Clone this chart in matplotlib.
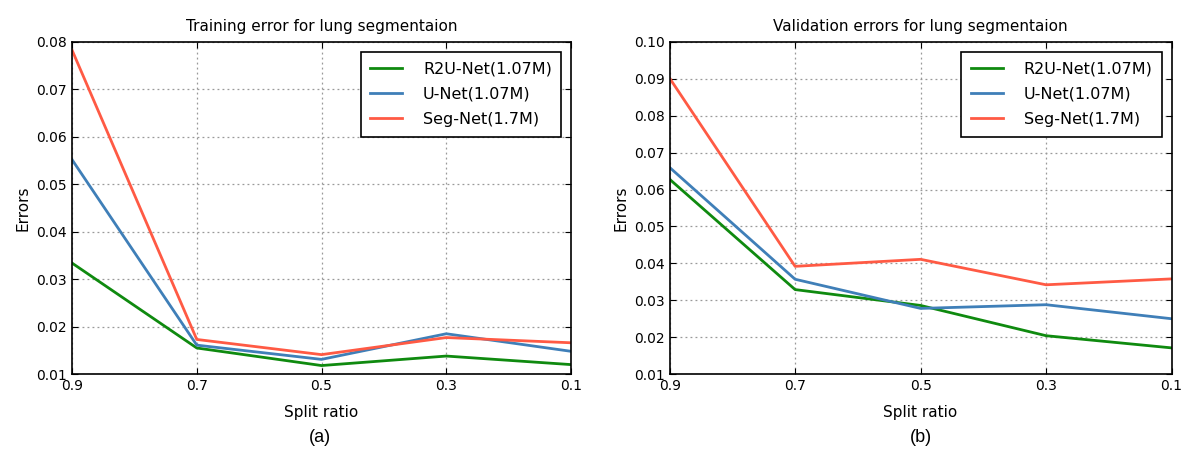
import matplotlib
matplotlib.use("Agg")
import matplotlib.pyplot as plt

# split ratios on the x axis (shown from 0.9 down to 0.1)
split_ratio = [0.9, 0.7, 0.5, 0.3, 0.1]
x_labels = ["0.9", "0.7", "0.5", "0.3", "0.1"]
series_names = ["R2U-Net(1.07M)", "U-Net(1.07M)", "Seg-Net(1.7M)"]

# training errors
train_r2unet = [0.0334, 0.0155, 0.0118, 0.0138, 0.0120]
train_unet = [0.0552, 0.0161, 0.0131, 0.0185, 0.0148]
train_segnet = [0.0783, 0.0173, 0.0141, 0.0177, 0.0166]

# validation errors
val_r2unet = [0.0628, 0.0329, 0.0286, 0.0204, 0.0171]
val_unet = [0.0660, 0.0357, 0.0278, 0.0288, 0.0250]
val_segnet = [0.0902, 0.0392, 0.0411, 0.0342, 0.0358]

colors = ["#0f8a0f", "#3f7fb8", "#ff5a44"]

plt.rcParams["font.family"] = "DejaVu Sans"

fig = plt.figure(figsize=(11.81, 4.59), dpi=100)
ax1 = fig.add_axes([0.061, 0.185, 0.4225, 0.7235])
ax2 = fig.add_axes([0.567, 0.185, 0.425, 0.7235])


def draw(ax, data, title, ylim, yticks):
    for vals, name, c in zip(data, series_names, colors):
        ax.plot(split_ratio, vals, color=c, lw=2, label=name)
    ax.set_xlim(0.9, 0.1)
    ax.set_ylim(*ylim)
    ax.set_xticks(split_ratio)
    ax.set_xticklabels(x_labels)
    ax.set_yticks(yticks)
    ax.set_yticklabels(["%.2f" % t for t in yticks])
    ax.grid(True, linestyle=(0, (1.5, 2.5)), color="#999999", lw=0.9)
    ax.tick_params(direction="in", top=True, right=True, labelsize=10, length=4)
    for s in ax.spines.values():
        s.set_linewidth(1.2)
    ax.set_title(title, fontsize=11, pad=8)
    ax.set_xlabel("Split ratio", fontsize=11, labelpad=9)
    ax.set_ylabel("Errors", fontsize=11, labelpad=4)
    leg = ax.legend(loc="upper right", fontsize=11.5, fancybox=False, framealpha=1,
                    handlelength=2.0, handletextpad=1.3, borderpad=0.6,
                    labelspacing=0.65, borderaxespad=0.6)
    leg.get_frame().set_edgecolor("black")
    leg.get_frame().set_linewidth(1.2)


draw(ax1, [train_r2unet, train_unet, train_segnet],
     "Training error for lung segmentaion", (0.01, 0.08),
     [0.01, 0.02, 0.03, 0.04, 0.05, 0.06, 0.07, 0.08])
draw(ax2, [val_r2unet, val_unet, val_segnet],
     "Validation errors for lung segmentaion", (0.01, 0.10),
     [0.01, 0.02, 0.03, 0.04, 0.05, 0.06, 0.07, 0.08, 0.09, 0.10])

fig.text(0.271, 0.046, "(a)", ha="center", va="center", fontsize=13,
         family="Liberation Sans")
fig.text(0.78, 0.046, "(b)", ha="center", va="center", fontsize=13,
         family="Liberation Sans")

fig.savefig("out.png", dpi=100)
